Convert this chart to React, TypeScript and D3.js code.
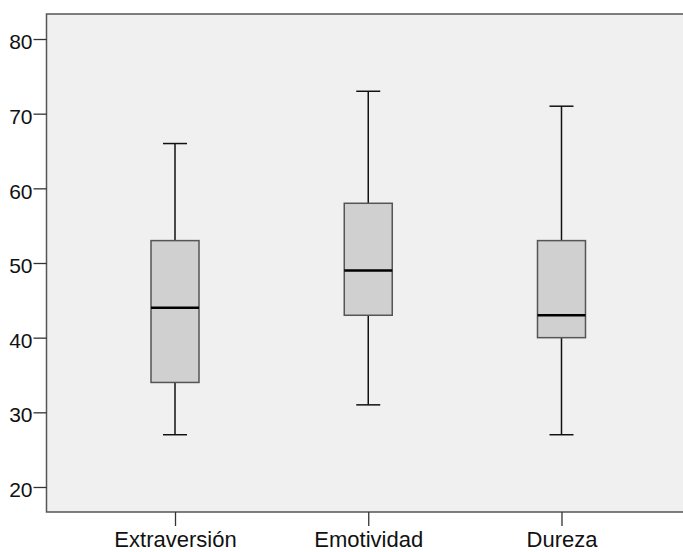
import React, { useEffect, useRef } from "react";
import * as d3 from "d3";

const categories = ["Extraversión", "Emotividad", "Dureza"];
const mins = [27, 31, 27];
const q1s = [34, 43, 40];
const medians = [44, 49, 43];
const q3s = [53, 58, 53];
const maxs = [66, 73, 71];
const yTicks = [20, 30, 40, 50, 60, 70, 80];

const W = 683;
const H = 552;

const App = () => {
  const ref = useRef<SVGSVGElement>(null);

  useEffect(() => {
    const svg = d3.select(ref.current);
    svg.selectAll("*").remove();

    const left = 46.5, top = 14, bottom = 512, right = 690;

    const y = d3.scaleLinear().domain([16.65, 83.35]).range([bottom, top]);
    const x = d3.scalePoint<string>().domain(categories).range([left, right]).padding(0.665);

    svg.append("rect")
      .attr("x", left).attr("y", top)
      .attr("width", right - left).attr("height", bottom - top)
      .attr("fill", "#f0f0f0")
      .attr("stroke", "#555")
      .attr("stroke-width", 1.5);

    const yAxis = svg.append("g")
      .attr("transform", `translate(${left},0)`)
      .call(d3.axisLeft(y).tickValues(yTicks).tickSize(13).tickPadding(1));
    yAxis.select(".domain").remove();
    yAxis.selectAll("line").attr("stroke", "#333").attr("stroke-width", 1.3);
    yAxis.selectAll("text")
      .attr("font-family", "Liberation Sans, Arial, sans-serif")
      .attr("font-size", 21)
      .attr("dy", "0.46em")
      .attr("fill", "#111");

    const xAxis = svg.append("g")
      .attr("transform", `translate(0,${bottom})`)
      .call(d3.axisBottom(x).tickSize(14).tickPadding(5));
    xAxis.select(".domain").remove();
    xAxis.selectAll("line").attr("stroke", "#333").attr("stroke-width", 1.3);
    xAxis.selectAll("text")
      .attr("font-family", "Liberation Sans, Arial, sans-serif")
      .attr("font-size", 22)
      .attr("fill", "#111");

    const boxW = 48, capW = 24;
    categories.forEach((c, i) => {
      const cx = x(c) as number;
      const g = svg.append("g");
      // whiskers
      g.append("line").attr("x1", cx).attr("x2", cx)
        .attr("y1", y(maxs[i])).attr("y2", y(q3s[i]))
        .attr("stroke", "#111").attr("stroke-width", 1.5);
      g.append("line").attr("x1", cx).attr("x2", cx)
        .attr("y1", y(q1s[i])).attr("y2", y(mins[i]))
        .attr("stroke", "#111").attr("stroke-width", 1.5);
      [maxs[i], mins[i]].forEach((v) => {
        g.append("line")
          .attr("x1", cx - capW / 2).attr("x2", cx + capW / 2)
          .attr("y1", y(v)).attr("y2", y(v))
          .attr("stroke", "#111").attr("stroke-width", 1.5);
      });
      g.append("rect")
        .attr("x", cx - boxW / 2).attr("y", y(q3s[i]))
        .attr("width", boxW).attr("height", y(q1s[i]) - y(q3s[i]))
        .attr("fill", "#d0d0d0")
        .attr("stroke", "#555").attr("stroke-width", 1.5);
      g.append("line")
        .attr("x1", cx - boxW / 2).attr("x2", cx + boxW / 2)
        .attr("y1", y(medians[i])).attr("y2", y(medians[i]))
        .attr("stroke", "#000").attr("stroke-width", 2.5);
    });
  }, []);

  return (
    <svg ref={ref} width={W} height={H} style={{ position: "absolute", left: 0, top: 0 }} />
  );
};

export default App;
